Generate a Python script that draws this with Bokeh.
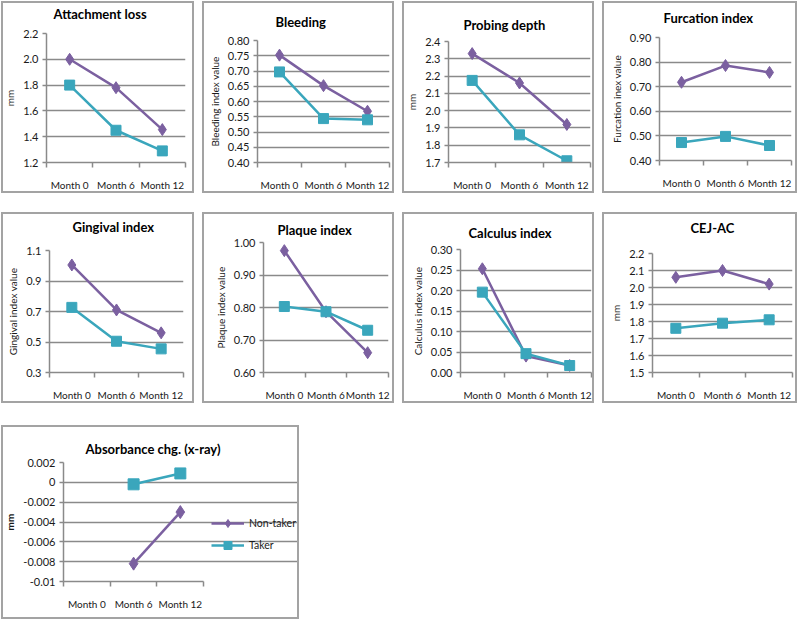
from bokeh.plotting import figure
from bokeh.models import (Range1d, FixedTicker, Label, Legend, LegendItem, Spacer,
                          InlineStyleSheet)
from bokeh.layouts import row, column
from bokeh.embed import file_html
from bokeh.resources import INLINE

# ---------------- data ----------------
months = ["Month 0", "Month 6", "Month 12"]
series_names = ["Non-taker", "Taker"]

attach_nt = [2.00, 1.78, 1.455]
attach_t = [1.80, 1.45, 1.29]
attach_ticks = [1.2, 1.4, 1.6, 1.8, 2.0, 2.2]
attach_labels = ["1.2", "1.4", "1.6", "1.8", "2.0", "2.2"]

bleed_nt = [0.752, 0.652, 0.568]
bleed_t = [0.697, 0.544, 0.540]
bleed_ticks = [0.40, 0.45, 0.50, 0.55, 0.60, 0.65, 0.70, 0.75, 0.80]
bleed_labels = ["0.40", "0.45", "0.50", "0.55", "0.60", "0.65", "0.70", "0.75", "0.80"]

probe_nt = [2.33, 2.16, 1.92]
probe_t = [2.175, 1.86, 1.71]
probe_ticks = [1.7, 1.8, 1.9, 2.0, 2.1, 2.2, 2.3, 2.4]
probe_labels = ["1.7", "1.8", "1.9", "2.0", "2.1", "2.2", "2.3", "2.4"]

furc_nt = [0.718, 0.786, 0.758]
furc_t = [0.473, 0.498, 0.461]
furc_ticks = [0.40, 0.50, 0.60, 0.70, 0.80, 0.90]
furc_labels = ["0.40", "0.50", "0.60", "0.70", "0.80", "0.90"]

ging_nt = [1.005, 0.71, 0.56]
ging_t = [0.727, 0.505, 0.455]
ging_ticks = [0.3, 0.5, 0.7, 0.9, 1.1]
ging_labels = ["0.3", "0.5", "0.7", "0.9", "1.1"]

plaque_nt = [0.975, 0.787, 0.661]
plaque_t = [0.803, 0.787, 0.730]
plaque_ticks = [0.60, 0.70, 0.80, 0.90, 1.00]
plaque_labels = ["0.60", "0.70", "0.80", "0.90", "1.00"]

calc_nt = [0.253, 0.040, 0.017]
calc_t = [0.196, 0.046, 0.017]
calc_ticks = [0.00, 0.05, 0.10, 0.15, 0.20, 0.25, 0.30]
calc_labels = ["0.00", "0.05", "0.10", "0.15", "0.20", "0.25", "0.30"]

cej_nt = [2.06, 2.10, 2.02]
cej_t = [1.76, 1.79, 1.81]
cej_ticks = [1.5, 1.6, 1.7, 1.8, 1.9, 2.0, 2.1, 2.2]
cej_labels = ["1.5", "1.6", "1.7", "1.8", "1.9", "2.0", "2.1", "2.2"]

absorb_nt = [float("nan"), -0.0082, -0.0030]
absorb_t = [float("nan"), -0.0002, 0.0009]
absorb_ticks = [-0.010, -0.008, -0.006, -0.004, -0.002, 0.0, 0.002]
absorb_labels = ["-0.01", "-0.008", "-0.006", "-0.004", "-0.002", "0", "0.002"]

# ---------------- style ----------------
FONT = "Lato"
PURPLE = "#7b60a0"
TEAL = "#3aa6bc"
GRID = "#8a8a8a"
BORDER = "#a3a3a3"

BORDER_CSS = InlineStyleSheet(css=(
    ":host { position: relative; }"
    ":host::after { content: ''; position: absolute; left: 0; top: 0; right: 0; bottom: 0;"
    " border: 2px solid " + BORDER + "; box-sizing: border-box; pointer-events: none; z-index: 50; }"
))


def panel(title, ylabel, nt, tk, ticks, labels, W, H, L, R, T, B, tx, ty,
          legend_space=0, ylabel_bold=False, dsize=12, ssize=10):
    n = len(months)
    frame_w = W - L - R
    # extra room on the right of the categories (used for the legend)
    x_end = n * frame_w / (frame_w - legend_space)
    p = figure(width=W, height=H, output_backend="svg", toolbar_location=None,
               title=None,
               x_range=Range1d(0, x_end),
               y_range=Range1d(ticks[0], ticks[-1]),
               min_border_left=L, min_border_right=R,
               min_border_top=T, min_border_bottom=B)
    if "frame_align" in p.properties():
        p.frame_align = False
    p.outline_line_color = None
    p.background_fill_color = "white"
    p.border_fill_color = "white"
    p.stylesheets = [BORDER_CSS]

    xs = [i + 0.5 for i in range(n)]

    l1 = p.line(xs, nt, line_color=PURPLE, line_width=2.5)
    s1 = p.scatter(xs, nt, marker="diamond", size=dsize, fill_color=PURPLE,
                   line_color=PURPLE)
    l2 = p.line(xs, tk, line_color=TEAL, line_width=2.5)
    s2 = p.scatter(xs, tk, marker="square", size=ssize, fill_color=TEAL,
                   line_color=TEAL)

    # x axis: labels at category centres, ticks at category boundaries
    xa = p.xaxis[0]
    xa.bounds = (0, n)
    xa.ticker = FixedTicker(ticks=xs, minor_ticks=list(range(n + 1)))
    xa.major_label_overrides = {x: m for x, m in zip(xs, months)}
    xa.major_tick_line_color = None
    xa.major_tick_out = 0
    xa.major_tick_in = 0
    xa.minor_tick_out = 5
    xa.minor_tick_in = 0
    xa.minor_tick_line_color = GRID
    xa.minor_tick_line_width = 1.5
    xa.axis_line_color = GRID
    xa.axis_line_width = 1.5
    xa.major_label_standoff = 11
    xa.axis_label_standoff = 0
    xa.major_label_text_font = FONT
    xa.major_label_text_font_size = "10px"
    xa.major_label_text_line_height = 1.0
    xa.major_label_text_color = "#1a1a1a"

    ya = p.yaxis[0]
    ya.ticker = FixedTicker(ticks=ticks)
    ya.major_label_overrides = {t: s for t, s in zip(ticks, labels)}
    ya.major_tick_out = 4
    ya.major_tick_in = 0
    ya.minor_tick_line_color = None
    ya.major_tick_line_color = GRID
    ya.major_tick_line_width = 1.5
    ya.axis_line_color = GRID
    ya.axis_line_width = 1.5
    ya.major_label_standoff = 4
    ya.major_label_text_font = FONT
    ya.major_label_text_font_size = "11px"
    ya.major_label_text_color = "#1a1a1a"
    ya.axis_label = ylabel
    ya.axis_label_text_font = FONT
    ya.axis_label_text_font_size = "10px"
    ya.axis_label_text_font_style = "bold" if ylabel_bold else "normal"
    ya.axis_label_text_color = "#1a1a1a"
    ya.axis_label_standoff = 4

    p.xgrid.visible = False
    p.ygrid[0].ticker = FixedTicker(ticks=ticks)
    p.ygrid[0].bounds = (0, n)
    p.ygrid[0].grid_line_color = GRID
    p.ygrid[0].grid_line_width = 1.5

    p.add_layout(Label(x=tx, y=ty, x_units="canvas", y_units="canvas",
                       text=title, text_align="left", text_baseline="middle",
                       text_font=FONT, text_font_size="13px",
                       text_font_style="bold", text_color="#000000"), "above")

    if legend_space:
        leg = Legend(items=[LegendItem(label=series_names[0], renderers=[l1, s1]),
                            LegendItem(label=series_names[1], renderers=[l2, s2])],
                     location=(frame_w - legend_space + 6, 26),
                     glyph_width=33, glyph_height=20,
                     spacing=2, padding=0, margin=0, label_standoff=5,
                     border_line_color=None, background_fill_alpha=0,
                     label_text_font=FONT, label_text_font_size="10.5px",
                     label_text_color="#1a1a1a")
        p.add_layout(leg, "center")
    return p


p1 = panel("Attachment loss", "mm", attach_nt, attach_t, attach_ticks, attach_labels,
           193, 192, 39, 9, 32, 27, 52, 12)
p2 = panel("Bleeding", "Bleeding index value", bleed_nt, bleed_t, bleed_ticks, bleed_labels,
           192, 192, 55, 5, 39, 27, 73, 20)
p3 = panel("Probing depth", "mm", probe_nt, probe_t, probe_ticks, probe_labels,
           192, 192, 46, 4, 40, 30, 61, 23)
p4 = panel("Furcation index", "Furcation inex value", furc_nt, furc_t, furc_ticks, furc_labels,
           195, 192, 57, 6, 36, 33, 61, 16)

p5 = panel("Gingival index", "Gingival index value", ging_nt, ging_t, ging_ticks, ging_labels,
           193, 191, 48, 11, 38, 31, 71, 14)
p6 = panel("Plaque index", "Plaque index value", plaque_nt, plaque_t, plaque_ticks, plaque_labels,
           192, 191, 61, 6, 30, 27, 75, 17)
p7 = panel("Calculus index", "Calculus index value", calc_nt, calc_t, calc_ticks, calc_labels,
           192, 191, 58, 3, 37, 31, 66, 20)
p8 = panel("CEJ-AC", "mm", cej_nt, cej_t, cej_ticks, cej_labels,
           195, 191, 50, 5, 41, 31, 88, 15)

p9 = panel("Absorbance chg. (x-ray)", "mm", absorb_nt, absorb_t, absorb_ticks, absorb_labels,
           298, 194, 59, 2, 37, 38, 84, 23, legend_space=95, ylabel_bold=True,
           dsize=13, ssize=11)

layout = column(
    Spacer(width=10, height=1),
    row(Spacer(width=1, height=10), p1, Spacer(width=8, height=10), p2,
        Spacer(width=8, height=10), p3, Spacer(width=8, height=10), p4),
    Spacer(width=10, height=19),
    row(Spacer(width=1, height=10), p5, Spacer(width=8, height=10), p6,
        Spacer(width=8, height=10), p7, Spacer(width=8, height=10), p8),
    Spacer(width=10, height=22),
    row(Spacer(width=1, height=10), p9),
)

open("out.html", "w").write(file_html(layout, INLINE))
